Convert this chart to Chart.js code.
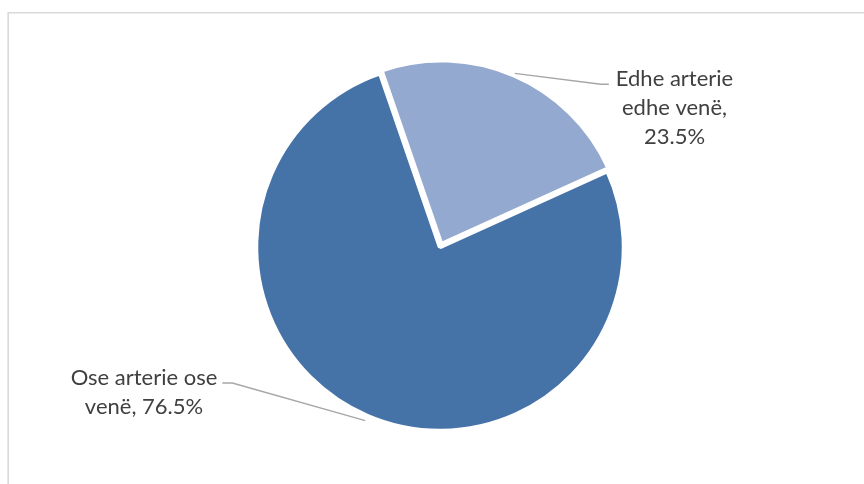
<!DOCTYPE html>
<html>
<head>
<meta charset="utf-8">
<script src="https://cdn.jsdelivr.net/npm/chart.js@4/dist/chart.umd.min.js"></script>
<style>
  html, body { margin: 0; padding: 0; background: #ffffff; }
  #wrap { width: 864px; height: 484px; position: relative; }
</style>
</head>
<body>
<div id="wrap"><canvas id="c" width="864" height="484"></canvas></div>
<script>
// Categories and their shares (%)
const categories = ['Edhe arterie edhe venë', 'Ose arterie ose venë'];
const shares = [23.5, 76.5];
const sliceColors = ['#94a9cf', '#4572a7'];

// Data label placement, relative to the pie centre: [text centre x, first baseline y]
const labelOffsets = [[234.5, -160.7], [-296, 138]];
const labelWrap = [140, 175];
const labelFont = '22px Lato, "Open Sans", sans-serif';

function wrapText(ctx, text, maxW) {
  const words = text.split(' ');
  const lines = [];
  let cur = '';
  for (const w of words) {
    const t = cur ? cur + ' ' + w : w;
    if (cur && ctx.measureText(t).width > maxW) { lines.push(cur); cur = w; }
    else cur = t;
  }
  if (cur) lines.push(cur);
  return lines;
}

// Light grey chart-area frame
const framePlugin = {
  id: 'frame',
  beforeDraw(chart) {
    const ctx = chart.ctx;
    ctx.save();
    ctx.strokeStyle = '#d9d9d9';
    ctx.lineWidth = 1.6;
    ctx.beginPath();
    ctx.moveTo(8.2, 490);
    ctx.lineTo(8.2, 12.8);
    ctx.lineTo(870, 12.8);
    ctx.stroke();
    ctx.restore();
  }
};

// Outside labels with leader lines
const labelPlugin = {
  id: 'sliceLabels',
  afterDatasetsDraw(chart) {
    const ctx = chart.ctx;
    const meta = chart.getDatasetMeta(0);
    const lineH = 29;
    ctx.save();
    ctx.font = labelFont;
    meta.data.forEach((arc, i) => {
      const p = arc.getProps(['x', 'y', 'startAngle', 'endAngle', 'outerRadius']);
      const mid = (p.startAngle + p.endAngle) / 2;
      const r = p.outerRadius + 5;
      const ax = p.x + Math.cos(mid) * r;
      const ay = p.y + Math.sin(mid) * r;

      const text = categories[i] + ', ' + shares[i].toFixed(1) + '%';
      const lines = wrapText(ctx, text, labelWrap[i]);
      const cx = p.x + labelOffsets[i][0];
      const by = p.y + labelOffsets[i][1];
      const w0 = ctx.measureText(lines[0]).width;
      const right = Math.cos(mid) >= 0;
      const elbowY = by - 2;
      const endX = right ? cx - w0 / 2 - 7 : cx + w0 / 2 + 5;
      const kneeX = right ? endX - 8 : endX + 10;

      ctx.strokeStyle = '#a6a6a6';
      ctx.lineWidth = 1.4;
      ctx.beginPath();
      ctx.moveTo(ax, ay);
      ctx.lineTo(kneeX, elbowY);
      ctx.lineTo(endX, elbowY);
      ctx.stroke();

      ctx.fillStyle = '#404040';
      ctx.textAlign = 'center';
      ctx.textBaseline = 'alphabetic';
      lines.forEach((l, k) => ctx.fillText(l, cx, by + k * lineH));
    });
    ctx.restore();
  }
};

new Chart(document.getElementById('c'), {
  type: 'pie',
  data: {
    labels: categories,
    datasets: [{
      data: shares,
      backgroundColor: sliceColors,
      borderColor: '#ffffff',
      borderWidth: 4.5,
      offset: [12, 0],
      hoverOffset: 0,
      radius: 184
    }]
  },
  options: {
    responsive: false,
    animation: false,
    rotation: -19,
    layout: { padding: { left: 16, right: 0, top: 63, bottom: 53 } },
    plugins: {
      legend: { display: false },
      tooltip: { enabled: false },
      title: { display: false }
    },
    events: []
  },
  plugins: [framePlugin, labelPlugin]
});
</script>
</body>
</html>
